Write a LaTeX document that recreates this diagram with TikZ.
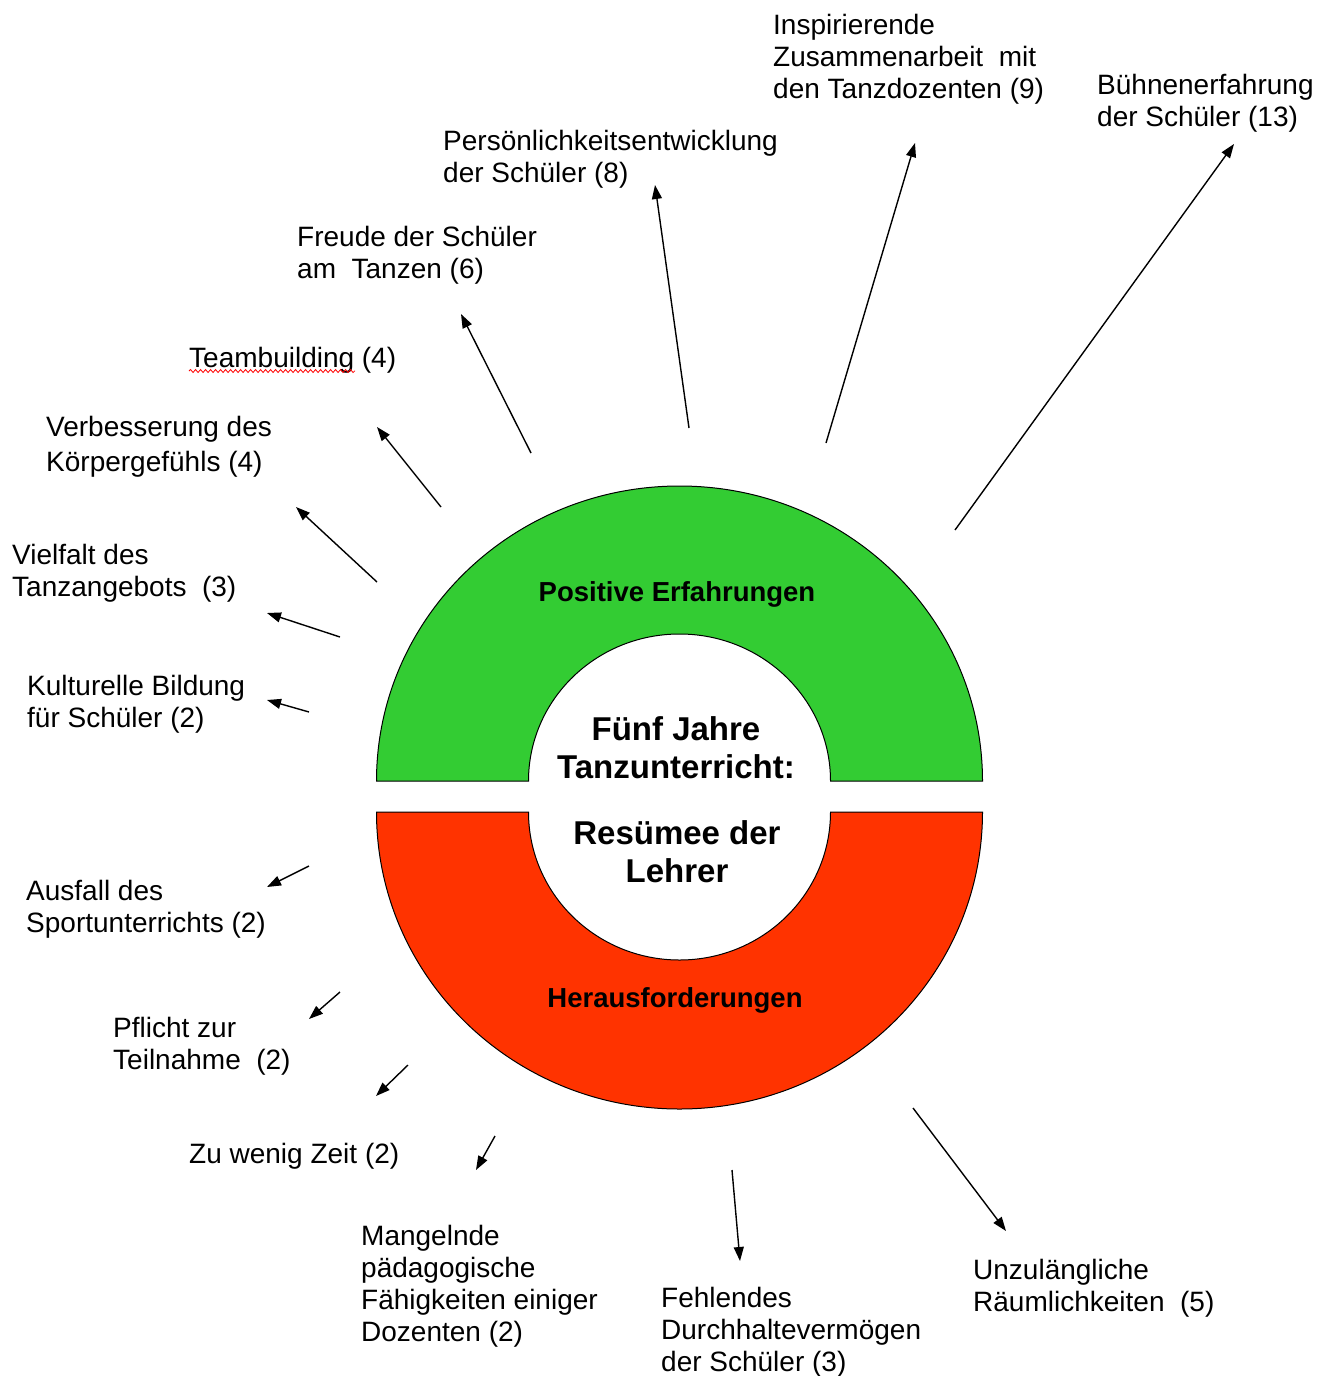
\documentclass[tikz,border=0pt]{standalone}
\usepackage{fontspec}
\setmainfont{Liberation Sans}
\usetikzlibrary{arrows.meta,decorations.pathmorphing}
\definecolor{posgreen}{HTML}{33CC33}
\definecolor{negred}{HTML}{FF3300}
\newcommand\fl{\rule{0pt}{26pt}}
\tikzset{
  lbl/.style={anchor=north west, inner sep=0pt, align=left, text=black,
    font=\fontsize{28}{32.2}\selectfont},
  ctr/.style={inner sep=0pt, align=center, font=\fontsize{33}{38}\selectfont\bfseries},
  band/.style={inner sep=0pt, font=\fontsize{27.5}{32}\selectfont\bfseries},
  ptr/.style={line width=1.4pt, -{Triangle[length=14pt,width=10pt]}},
  half/.style={draw=black, line width=1pt}
}
\begin{document}
\begin{tikzpicture}[x=1pt,y=-1pt]
\useasboundingbox (0,0) rectangle (1334,1376);
\fill[white] (0,0) rectangle (1334,1376);

% ring halves
\draw[half, fill=posgreen] (376.5,781) arc[start angle=180,end angle=0,x radius=303pt,y radius=295pt]
  -- (830.5,781) arc[start angle=0,end angle=180,x radius=151pt,y radius=147pt] -- cycle;
\draw[half, fill=negred] (376.5,812) arc[start angle=180,end angle=360,x radius=303pt,y radius=297pt]
  -- (830.5,812) arc[start angle=360,end angle=180,x radius=151pt,y radius=148pt] -- cycle;

\node[band] (pos) at (677,594) {Positive Erfahrungen};
\node[band] (neg) at (675,1000) {Herausforderungen};
\node[ctr] (ctop) at (676,748) {Fünf Jahre\\Tanzunterricht:};
\node[ctr] (cbot) at (677,852) {Resümee der\\Lehrer};

% labels (y = first-line centre - 16)
\node[lbl] (lInsp) at (773,8) {\fl Inspirierende\\Zusammenarbeit\ \ mit\\den Tanzdozenten (9)};
\node[lbl] (lBuehne) at (1097,68) {\fl Bühnenerfahrung\\der Schüler (13)};
\node[lbl] (lPers) at (443,124) {\fl Persönlichkeitsentwicklung\\der Schüler (8)};
\node[lbl] (lFreude) at (297,220) {\fl Freude der Schüler\\am\ \ Tanzen (6)};
\node[lbl] (lTeam) at (189,341) {\fl Teambuilding (4)};
\node[lbl] (lVerb) at (46,410) {\fl Verbesserung des\\[3pt]Körpergefühls (4)};
\node[lbl] (lViel) at (12,538) {\fl Vielfalt des\\Tanzangebots\ \ (3)};
\node[lbl] (lKult) at (27,669) {\fl Kulturelle Bildung\\für Schüler (2)};
\node[lbl] (lAusf) at (26,874) {\fl Ausfall des\\Sportunterrichts (2)};
\node[lbl] (lPfl) at (113,1011) {\fl Pflicht zur\\Teilnahme\ \ (2)};
\node[lbl] (lZeit) at (189,1137) {\fl Zu wenig Zeit (2)};
\node[lbl] (lMang) at (361,1219) {\fl Mangelnde\\pädagogische\\Fähigkeiten einiger\\Dozenten (2)};
\node[lbl] (lFehl) at (661,1281) {\fl Fehlendes\\Durchhaltevermögen\\der Schüler (3)};
\node[lbl] (lUnz) at (973,1253) {\fl Unzulängliche\\Räumlichkeiten\ \ (5)};

% spell-check squiggle under Teambuilding
\coordinate (sqA) at (189,371);
\coordinate (sqB) at (355,371);
\draw[red, line width=0.8pt, decorate, decoration={snake, amplitude=1.5pt, segment length=5pt}] (sqA) -- (sqB);

% arrow ends
\coordinate (tBue) at (955,530);  \coordinate (hBue) at (1234,144);
\coordinate (tIns) at (826,443);  \coordinate (hIns) at (915,143);
\coordinate (tPer) at (689,428);  \coordinate (hPer) at (655,185);
\coordinate (tFre) at (531,453);  \coordinate (hFre) at (461,314);
\coordinate (tTea) at (441,507);  \coordinate (hTea) at (377,427);
\coordinate (tVer) at (377,582);  \coordinate (hVer) at (296,507);
\coordinate (tVie) at (340,637);  \coordinate (hVie) at (267,613);
\coordinate (tKul) at (309,712);  \coordinate (hKul) at (267,700);
\coordinate (tAus) at (309,866);  \coordinate (hAus) at (267,887);
\coordinate (tPfl) at (340,992);  \coordinate (hPfl) at (309,1019);
\coordinate (tZei) at (408,1065); \coordinate (hZei) at (376,1096);
\coordinate (tMan) at (495,1136); \coordinate (hMan) at (476,1170);
\coordinate (tFeh) at (732,1170); \coordinate (hFeh) at (740,1261);
\coordinate (tUnz) at (913,1108); \coordinate (hUnz) at (1006,1231);

\foreach \n in {Bue,Ins,Per,Fre,Tea,Ver,Vie,Kul,Aus,Pfl,Zei,Man,Feh,Unz}
  \draw[ptr] (t\n) -- (h\n);
\end{tikzpicture}
\end{document}
